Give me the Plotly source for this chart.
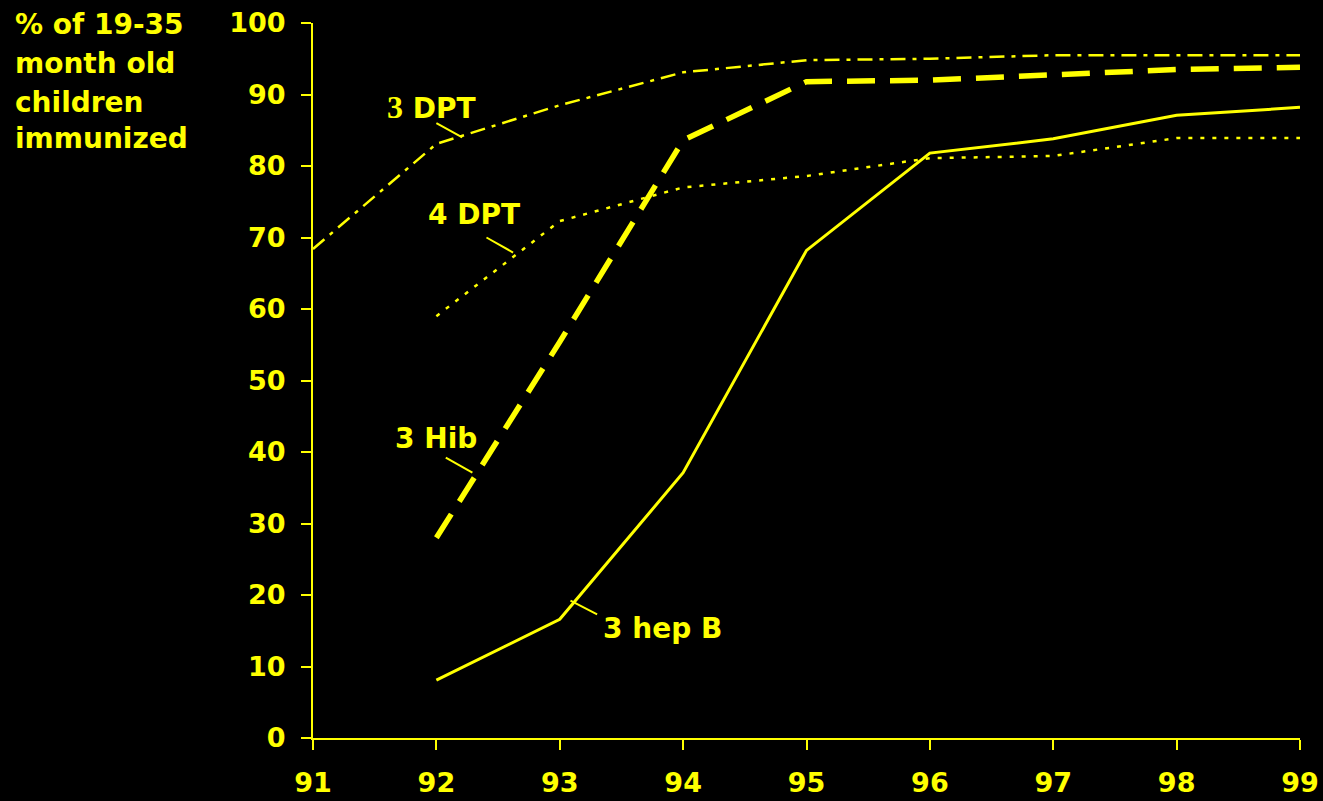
import plotly.graph_objects as go

years = [91, 92, 93, 94, 95, 96, 97, 98, 99]
dpt3_years = [91, 92, 93, 94, 95, 96, 97, 98, 99]
dpt3 = [68.4, 83.1, 88.5, 93.1, 94.8, 95.0, 95.5, 95.5, 95.5]
dpt4_years = [92, 93, 94, 95, 96, 97, 98, 99]
dpt4 = [59.0, 72.3, 77.0, 78.6, 81.1, 81.4, 83.9, 83.9]
hib3_years = [92, 93, 94, 95, 96, 97, 98, 99]
hib3 = [28.0, 55.4, 83.6, 91.8, 92.0, 92.8, 93.5, 93.8]
hepb3_years = [92, 93, 94, 95, 96, 97, 98, 99]
hepb3 = [8.1, 16.6, 37.1, 68.2, 81.8, 83.8, 87.1, 88.2]

y_ticks = [0, 10, 20, 30, 40, 50, 60, 70, 80, 90, 100]
title_lines = ["% of 19-35", "month old", "children", "immunized"]

YEL = "#FFFF00"
FONT = "DejaVu Sans"
W, H = 1323, 801
ML, MR, MT, MB = 313, 23, 23, 63

fig = go.Figure()
fig.add_trace(go.Scatter(x=dpt3_years, y=dpt3, mode="lines",
                         line=dict(color=YEL, width=2.5, dash="15px,7px,4px,7px"),
                         cliponaxis=False))
fig.add_trace(go.Scatter(x=dpt4_years, y=dpt4, mode="lines",
                         line=dict(color=YEL, width=2.5, dash="4px,8px"),
                         cliponaxis=False))
fig.add_trace(go.Scatter(x=hib3_years, y=hib3, mode="lines",
                         line=dict(color=YEL, width=5.5, dash="28px,15px"),
                         cliponaxis=False))
fig.add_trace(go.Scatter(x=hepb3_years, y=hepb3, mode="lines",
                         line=dict(color=YEL, width=3),
                         cliponaxis=False))

# series labels with leader lines
labels = [
    ('<span style="font-family:Liberation Serif;font-size:32px">3</span> DPT', 91.962, 88.25, (92.00, 86.0, 92.21, 84.0)),
    ("4 DPT", 92.303, 73.2, (92.406, 70.0, 92.622, 67.9)),
    ("3 Hib", 91.995, 41.9, (92.076, 39.2, 92.292, 37.1)),
    ("3 hep B", 93.835, 15.3, (93.087, 19.2, 93.303, 17.3)),
]
for txt, tx, ty, (x0, y0, x1, y1) in labels:
    fig.add_annotation(x=tx, y=ty, xref="x", yref="y", text="<b>%s</b>" % txt,
                       showarrow=False, xanchor="center", yanchor="middle",
                       font=dict(family=FONT, size=28, color=YEL))
    fig.add_shape(type="line", xref="x", yref="y", x0=x0, y0=y0, x1=x1, y1=y1,
                  line=dict(color=YEL, width=2))

# y-axis title lines (pixel positions converted to paper fractions)
title_px_y = [24.5, 64, 102.5, 139]
pw = W - ML - MR
ph = H - MT - MB
for line, py in zip(title_lines, title_px_y):
    fig.add_annotation(x=(13 - ML) / pw, y=(H - MB - py) / ph, xref="paper", yref="paper",
                       text="<b>%s</b>" % line, showarrow=False,
                       xanchor="left", yanchor="middle",
                       font=dict(family=FONT, size=28, color=YEL))

fig.update_layout(
    width=W, height=H,
    margin=dict(l=ML, r=MR, t=MT, b=MB, pad=0, autoexpand=False),
    paper_bgcolor="black", plot_bgcolor="black",
    showlegend=False,
    font=dict(family=FONT, color=YEL, size=27),
)
fig.update_xaxes(range=[91, 99], tickvals=years, ticktext=["<b>%d</b>" % y for y in years],
                 showgrid=False, zeroline=False, showline=True, linecolor=YEL, linewidth=2,
                 ticks="outside", ticklen=10, tickwidth=2, tickcolor=YEL,
                 automargin=False, ticklabelstandoff=10,
                 tickfont=dict(family=FONT, size=27, color=YEL))
fig.update_yaxes(range=[0, 100], tickvals=y_ticks, ticktext=["<b>%d</b>" % v for v in y_ticks],
                 showgrid=False, zeroline=False, showline=True, linecolor=YEL, linewidth=2,
                 ticks="outside", ticklen=10, tickwidth=2, tickcolor=YEL,
                 automargin=False, ticklabelstandoff=10,
                 tickfont=dict(family=FONT, size=27, color=YEL))

fig.write_html("out.html")
